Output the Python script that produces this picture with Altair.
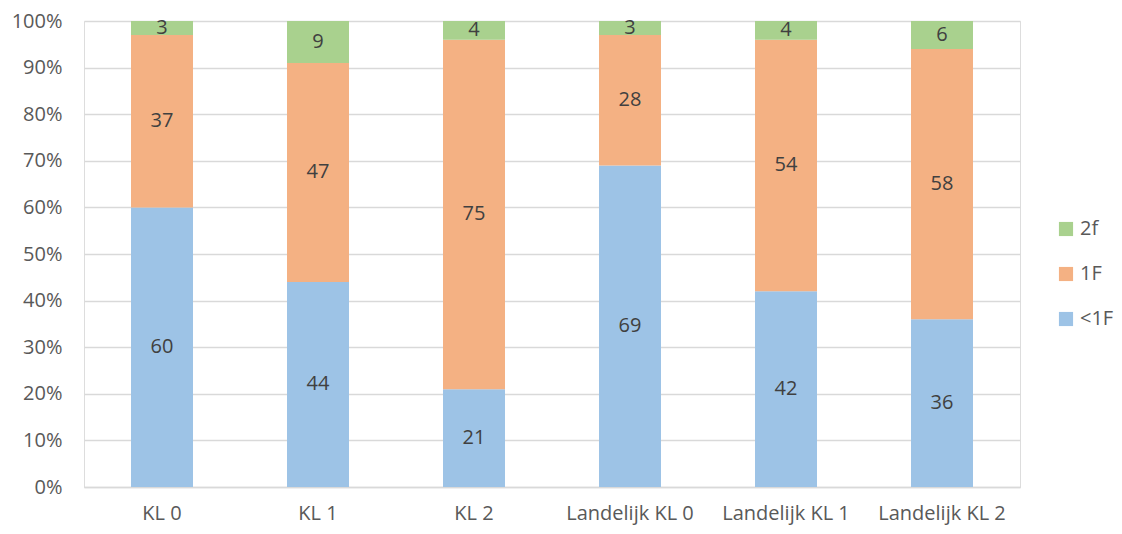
import altair as alt
import pandas as pd

categories = ["KL 0", "KL 1", "KL 2", "Landelijk  KL 0", "Landelijk  KL 1", "Landelijk KL 2"]
below_1f = [60, 44, 21, 69, 42, 36]
level_1f = [37, 47, 75, 28, 54, 58]
level_2f = [3, 9, 4, 3, 4, 6]

series = ["<1F", "1F", "2f"]
colors = ["#9DC3E6", "#F4B183", "#A9D18E"]

rows = []
for i, c in enumerate(categories):
    for s, vals, order in [("<1F", below_1f, 0), ("1F", level_1f, 1), ("2f", level_2f, 2)]:
        rows.append({"cat": c, "series": s, "value": vals[i], "order": order})
df = pd.DataFrame(rows)

FS = 20
FONT = "Open Sans"

base = alt.Chart(df).transform_joinaggregate(
    total="sum(value)", groupby=["cat"]
).transform_calculate(
    pct="datum.value / datum.total"
).transform_stack(
    stack="pct", groupby=["cat"], sort=[alt.SortField("order", order="ascending")], as_=["y0", "y1"]
).transform_calculate(
    mid="(datum.y0 + datum.y1) / 2"
)

x = alt.X("cat:N", sort=categories, title=None,
          scale=alt.Scale(paddingInner=0.6, paddingOuter=0.3),
          axis=alt.Axis(labelAngle=0, labelFontSize=FS, labelColor="#595959",
                        labelFont=FONT, labelPadding=16, ticks=False,
                        domainColor="#D9D9D9", domainWidth=1.5, labelLimit=300))

bars = base.mark_bar(size=62).encode(
    x=x,
    y=alt.Y("y0:Q", title=None, scale=alt.Scale(domain=[0, 1]),
            axis=alt.Axis(format=".0%", values=[i / 10 for i in range(11)],
                          labelFontSize=FS, labelColor="#595959", labelFont=FONT,
                          domain=False, ticks=False, labelPadding=22,
                          gridColor="#D9D9D9", gridWidth=1.5)),
    y2="y1:Q",
    color=alt.Color("series:N", scale=alt.Scale(domain=series, range=colors),
                    sort=["2f", "1F", "<1F"],
                    legend=alt.Legend(title=None, orient="none", legendX=972, legendY=198,
                                      symbolType="square", symbolSize=200, symbolStrokeWidth=0,
                                      labelFontSize=FS, labelColor="#595959", labelFont=FONT,
                                      rowPadding=25, labelOffset=4, values=["2f", "1F", "<1F"])),
)

labels = base.mark_text(fontSize=FS, color="#404040", font=FONT).encode(
    x=alt.X("cat:N", sort=categories),
    y=alt.Y("mid:Q"),
    text=alt.Text("value:Q"),
)

chart = (bars + labels).properties(
    width=936, height=466,
    autosize=alt.AutoSizeParams(type="none"),
    padding={"left": 76, "top": 13, "right": 94, "bottom": 39},
).configure_view(stroke=None).configure(background="white")

chart.save("out.html", embed_options={"renderer": "svg", "actions": False})
